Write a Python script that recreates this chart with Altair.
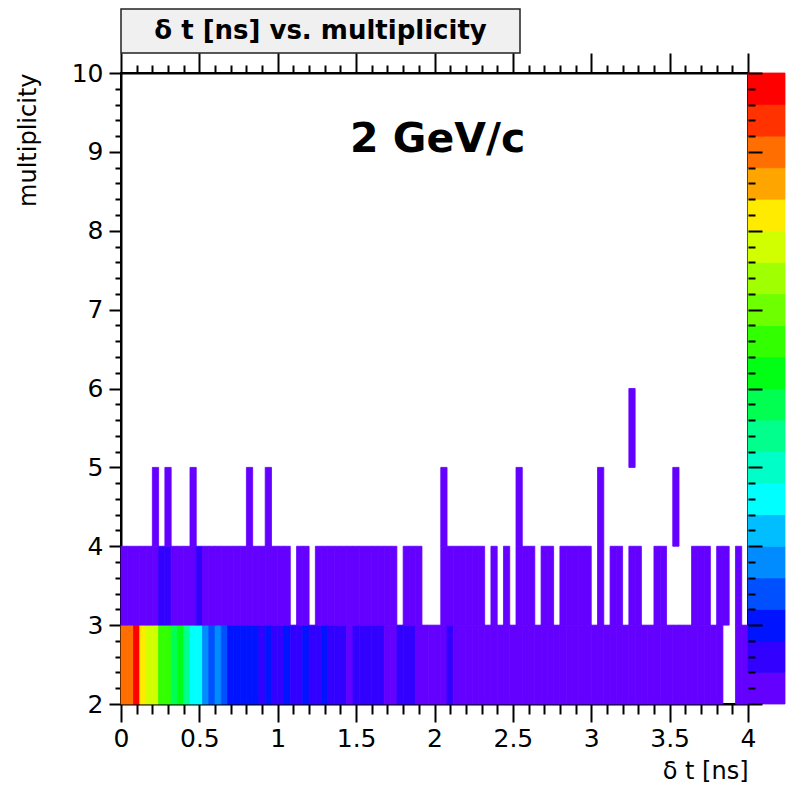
import altair as alt
import pandas as pd

FONT = "DejaVu Sans"

# ---------------- data ----------------
BIN_WIDTH = 0.04          # ns, 100 bins from 0 to 4
TITLE = "δ t [ns] vs. multiplicity"
X_TITLE = "δ t [ns]"
Y_TITLE = "multiplicity"
ANNOT_TEXT = "2 GeV/c"
ANNOT_X = 2.02
ANNOT_Y = 9.15

# colour level (1 = lowest, 20 = highest, 0 = empty) per 0.04 ns bin
ROW_2_3 = [18, 18, 20, 16, 15, 15, 12, 12, 10, 11,
           9, 7, 7, 5, 4, 5, 4, 3, 3, 3,
           3, 3, 2, 3, 2, 2, 3, 2, 2, 3,
           2, 2, 3, 2, 2, 2, 1, 2, 2, 2,
           2, 2, 1, 1, 2, 2, 2, 1, 1, 1,
           1, 1, 2, 1, 1, 1, 1, 1, 1, 1,
           1, 1, 1, 1, 1, 1, 1, 1, 1, 1,
           1, 1, 1, 1, 1, 1, 1, 1, 1, 1,
           1, 1, 1, 1, 1, 1, 1, 1, 1, 1,
           1, 1, 1, 1, 1, 1, 0, 0, 1, 1]
ROW_3_4 = [1, 1, 1, 1, 1, 1, 2, 2, 1, 1,
           1, 1, 2, 1, 1, 1, 1, 1, 1, 1,
           1, 1, 1, 1, 1, 1, 1, 0, 1, 1,
           0, 1, 1, 1, 1, 1, 1, 1, 1, 1,
           1, 1, 1, 1, 0, 1, 1, 1, 0, 0,
           0, 1, 1, 1, 1, 1, 1, 1, 0, 1,
           0, 1, 0, 1, 1, 1, 0, 1, 1, 0,
           1, 1, 1, 1, 1, 0, 1, 0, 1, 1,
           0, 1, 1, 0, 0, 1, 1, 0, 0, 0,
           0, 1, 1, 1, 0, 1, 1, 0, 1, 0]
ROW_4_5_BINS = [5, 7, 11, 20, 23, 51, 63, 76, 88]
ROW_5_6_BINS = [81]

LEVELS = list(range(1, 21))
PALETTE = ["#6400ff", "#3200ff", "#0014ff", "#0050ff", "#008cff",
           "#00beff", "#00ffff", "#00ffc8", "#00ff8c", "#00ff50",
           "#00ff14", "#32ff00", "#6eff00", "#a0ff00", "#d2ff00",
           "#ffeb00", "#ffa500", "#ff6e00", "#ff3200", "#ff0000"]

X_TICKS = [round(i * 0.1, 1) for i in range(41)]
Y_TICKS = [round(2 + i * 0.2, 1) for i in range(41)]
CB_TICKS = [i * 0.5 for i in range(41)]

# ---------------- table ----------------
rows = []
for m_lo, levels in [(2, ROW_2_3), (3, ROW_3_4)]:
    for b, lv in enumerate(levels):
        if lv > 0:
            rows.append({"t0": round(b * BIN_WIDTH, 4), "t1": round((b + 1) * BIN_WIDTH, 4),
                         "m0": m_lo, "m1": m_lo + 1, "level": lv})
for m_lo, bins in [(4, ROW_4_5_BINS), (5, ROW_5_6_BINS)]:
    for b in bins:
        rows.append({"t0": round(b * BIN_WIDTH, 4), "t1": round((b + 1) * BIN_WIDTH, 4),
                     "m0": m_lo, "m1": m_lo + 1, "level": 1})
df = pd.DataFrame(rows)

color_scale = alt.Scale(domain=LEVELS, range=PALETTE)
x_scale = alt.Scale(domain=[0, 4], nice=False, zero=False)
y_scale = alt.Scale(domain=[2, 10], nice=False, zero=False)

MAJOR_X = "abs(datum.value * 2 - round(datum.value * 2)) < 0.000001"
MAJOR_Y = "abs(datum.value - round(datum.value)) < 0.000001"
MAJOR_CB = "abs(datum.value / 2.5 - round(datum.value / 2.5)) < 0.000001"

common = dict(labelFont=FONT, labelColor="black", labelOverlap=False, labelFlush=False,
              tickColor="black", tickWidth=2, domainColor="black", domainWidth=2,
              grid=False, titleFont=FONT, titleColor="black", titleFontWeight="normal")

x_axis = alt.Axis(values=X_TICKS, orient="bottom", title=X_TITLE, titleAnchor="end",
                  titleFontSize=24, titlePadding=8,
                  labelExpr=f"{MAJOR_X} ? '' + datum.value : ''", labelFontSize=25,
                  labelPadding=4,
                  tickSize=alt.condition(MAJOR_X, alt.value(18), alt.value(10)), **common)
top_axis = alt.Axis(values=X_TICKS, orient="top", title=None, labels=False,
                    tickSize=alt.condition(MAJOR_X, alt.value(20), alt.value(8)), **common)
y_axis = alt.Axis(values=Y_TICKS, orient="left", title=Y_TITLE, titleAnchor="end",
                  titleFontSize=24, titlePadding=31,
                  labelExpr=f"{MAJOR_Y} ? '' + datum.value : ''", labelFontSize=25,
                  labelPadding=6,
                  tickSize=alt.condition(MAJOR_Y, alt.value(12), alt.value(6)), **common)

heat = alt.Chart(df).mark_rect(strokeWidth=0.8).encode(
    x=alt.X("t0:Q", scale=x_scale, axis=x_axis),
    x2="t1:Q",
    y=alt.Y("m0:Q", scale=y_scale, axis=y_axis),
    y2="m1:Q",
    color=alt.Color("level:O", scale=color_scale, legend=None),
    stroke=alt.Stroke("level:O", scale=color_scale, legend=None),
)

annot = alt.Chart(pd.DataFrame({"t": [ANNOT_X], "m": [ANNOT_Y], "label": [ANNOT_TEXT]})).mark_text(
    font=FONT, fontSize=41, fontWeight="bold", color="black", baseline="middle", align="center"
).encode(
    x=alt.X("t:Q", scale=x_scale, axis=top_axis),
    y=alt.Y("m:Q", scale=y_scale, axis=None),
    text="label:N",
)

main = alt.layer(heat, annot).resolve_axis(x="independent", y="independent").properties(
    width=627, height=631, view=alt.ViewBackground(stroke="black", strokeWidth=2)
)

cb_df = pd.DataFrame({"level": LEVELS, "lo": [l - 1 for l in LEVELS]})
cb_axis = alt.Axis(values=CB_TICKS, orient="left", offset=-14, domain=False, labels=False,
                   title=None, grid=False, tickColor="black", tickWidth=2, tickSize=14,
                   zindex=2,
                   tickDash=alt.condition(MAJOR_CB, alt.value([14, 0]), alt.value([0, 7, 7, 0])))
colorbar = alt.Chart(cb_df).mark_rect(strokeWidth=0.8).encode(
    y=alt.Y("lo:Q", scale=alt.Scale(domain=[0, 20], nice=False, zero=False), axis=cb_axis),
    y2="level:Q",
    color=alt.Color("level:O", scale=color_scale, legend=None),
    stroke=alt.Stroke("level:O", scale=color_scale, legend=None),
).properties(width=37, height=631, view=alt.ViewBackground(stroke=None))

title_box = alt.Chart(pd.DataFrame({"label": [TITLE]})).mark_text(
    font=FONT, fontSize=26, fontWeight="bold", color="black", baseline="middle", align="center"
).encode(text="label:N").properties(
    width=399, height=44,
    view=alt.ViewBackground(fill="#f0f0f0", stroke="#222222", strokeWidth=1.5),
)

empty = alt.Chart(pd.DataFrame({"label": [""]})).mark_text().encode(text="label:N").properties(
    width=37, height=44, view=alt.ViewBackground(stroke=None)
)

chart = alt.concat(
    title_box, empty, main, colorbar, columns=2,
    spacing={"row": 20, "column": 0}, bounds="flush",
).properties(
    padding={"left": 15, "top": 8, "right": 0, "bottom": 0},
    background="white",
).configure_view(stroke=None)

chart.save("out.html", embed_options={"renderer": "svg", "actions": False})
